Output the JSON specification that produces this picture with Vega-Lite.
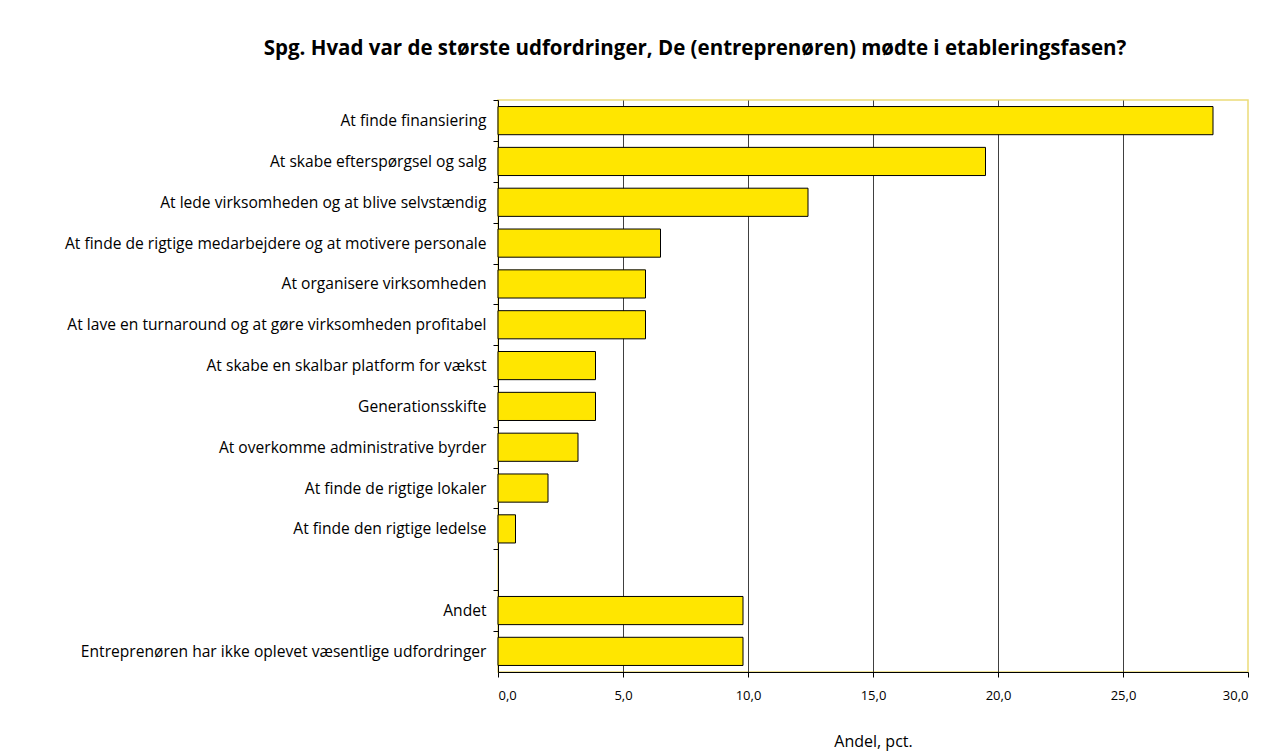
{
  "$schema": "https://vega.github.io/schema/vega-lite/v6.json",
  "width": 750,
  "height": 572,
  "autosize": {"type": "none"},
  "padding": {"left": 498, "top": 100, "right": 37, "bottom": 84},
  "background": "white",
  "title": {
    "text": "Spg. Hvad var de største udfordringer, De (entreprenøren) mødte i etableringsfasen?",
    "font": "Open Sans",
    "fontSize": 20.5,
    "fontWeight": "bold",
    "color": "black",
    "anchor": "middle",
    "dx": -178,
    "offset": 40
  },
  "config": {
    "view": {"stroke": "#EBDC78", "strokeWidth": 1.5},
    "font": "Open Sans"
  },
  "data": {
    "values": [
      {"kategori": "At finde finansiering", "andel": 28.6},
      {"kategori": "At skabe efterspørgsel og salg", "andel": 19.5},
      {"kategori": "At lede virksomheden og at blive selvstændig", "andel": 12.4},
      {"kategori": "At finde de rigtige medarbejdere og at motivere personale", "andel": 6.5},
      {"kategori": "At organisere virksomheden ", "andel": 5.9},
      {"kategori": "At lave en turnaround og at gøre virksomheden profitabel", "andel": 5.9},
      {"kategori": "At skabe en skalbar platform for vækst", "andel": 3.9},
      {"kategori": "Generationsskifte", "andel": 3.9},
      {"kategori": "At overkomme administrative byrder", "andel": 3.2},
      {"kategori": "At finde de rigtige lokaler", "andel": 2.0},
      {"kategori": "At finde den rigtige ledelse", "andel": 0.7},
      {"kategori": "Andet", "andel": 9.8},
      {"kategori": "Entreprenøren har ikke oplevet væsentlige udfordringer", "andel": 9.8}
    ]
  },
  "mark": {"type": "bar", "fill": "#FFE600", "stroke": "black", "strokeWidth": 1},
  "encoding": {
    "y": {
      "field": "kategori",
      "type": "nominal",
      "scale": {
        "domain": [
          "At finde finansiering",
          "At skabe efterspørgsel og salg",
          "At lede virksomheden og at blive selvstændig",
          "At finde de rigtige medarbejdere og at motivere personale",
          "At organisere virksomheden ",
          "At lave en turnaround og at gøre virksomheden profitabel",
          "At skabe en skalbar platform for vækst",
          "Generationsskifte",
          "At overkomme administrative byrder",
          "At finde de rigtige lokaler",
          "At finde den rigtige ledelse",
          " ",
          "Andet",
          "Entreprenøren har ikke oplevet væsentlige udfordringer"
        ],
        "paddingInner": 0.31,
        "paddingOuter": 0.16
      },
      "axis": {
        "title": null,
        "domainColor": "black",
        "domainWidth": 1,
        "tickColor": "black",
        "tickSize": 5,
        "tickOffset": -20.4,
        "labelOffset": 20.4,
        "labelPadding": 7,
        "labelFont": "Open Sans",
        "labelFontSize": 15.6,
        "labelColor": "black",
        "labelLimit": 600,
        "grid": false
      }
    },
    "x": {
      "field": "andel",
      "type": "quantitative",
      "scale": {"domain": [0, 30], "nice": false},
      "axis": {
        "title": "Andel, pct.",
        "titleFont": "Open Sans",
        "titleFontSize": 16,
        "titleFontWeight": "normal",
        "titleColor": "black",
        "titlePadding": 31,
        "values": [0, 5, 10, 15, 20, 25, 30],
        "labelExpr": "replace(format(datum.value, '.1f'), '.', ',')",
        "labelFont": "Open Sans",
        "labelFontSize": 13,
        "labelColor": "black",
        "labelPadding": 12,
        "tickColor": "black",
        "tickSize": 5,
        "domainColor": "black",
        "grid": true,
        "gridColor": {"condition": {"test": "datum.value == 0 || datum.value == 30", "value": "transparent"}, "value": "#404040"},
        "gridWidth": 1,
        "gridOpacity": 1
      }
    }
  }
}
